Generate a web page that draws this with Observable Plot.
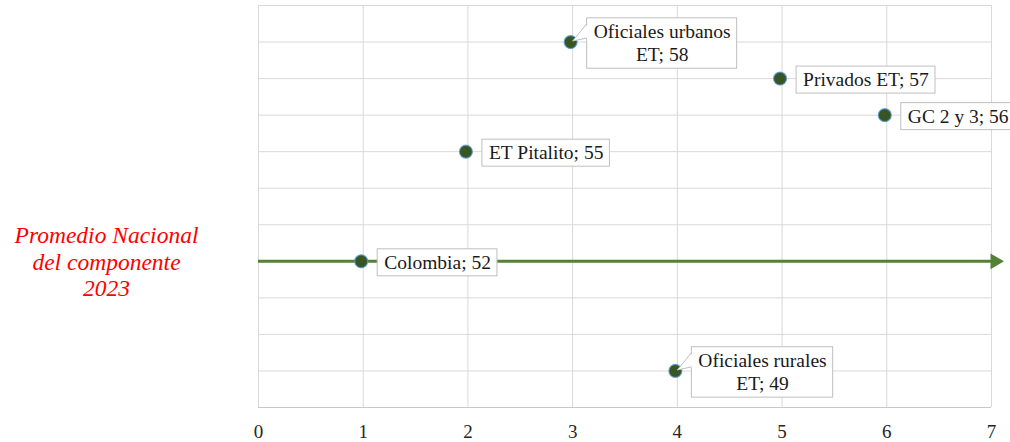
<!DOCTYPE html>
<html>
<head>
<meta charset="utf-8">
<script src="https://cdn.jsdelivr.net/npm/d3@7"></script>
<script src="https://cdn.jsdelivr.net/npm/@observablehq/plot@0.6"></script>
<style>
  body { margin: 0; background: #fff; }
  #chart { width: 1010px; height: 442px; overflow: hidden; }
</style>
</head>
<body>
<div id="chart"></div>
<script>
// ---- data ----
const categories = ["Colombia", "ET Pitalito", "Oficiales urbanos\nET", "Oficiales rurales\nET", "Privados ET", "GC 2 y 3"];
const positions = [1, 2, 3, 4, 5, 6];
const values = [52, 55, 58, 49, 57, 56];
const xTicks = [0, 1, 2, 3, 4, 5, 6, 7];
const yTicks = [48, 49, 50, 51, 52, 53, 54, 55, 56, 57, 58, 59];
const nationalAverage = 52;
const nationalLabel = "Promedio Nacional\ndel componente\n2023";

const data = categories.map((c, i) => ({
  name: c, x: positions[i], y: values[i], label: `${c}; ${values[i]}`
}));

const green = "#548235";
const serif = "Liberation Serif, Times New Roman, serif";

const plot = Plot.plot({
  width: 1010,
  height: 442,
  marginLeft: 258,
  marginRight: 19,
  marginTop: 5,
  marginBottom: 35,
  style: { fontFamily: serif, fontSize: "19px", background: "#fff", overflow: "visible" },
  x: { domain: [xTicks[0], xTicks[xTicks.length - 1]] },
  y: { domain: [yTicks[0], yTicks[yTicks.length - 1]], axis: null },
  marks: [
    Plot.gridY(yTicks, { stroke: "#d9d9d9", strokeOpacity: 1 }),
    Plot.gridX(xTicks, { stroke: "#d9d9d9", strokeOpacity: 1 }),
    Plot.ruleY([yTicks[0]], { stroke: "#c8c8c8", strokeWidth: 1.2 }),
    Plot.axisX(xTicks, { tickSize: 0, tickPadding: 17, fontSize: 19, fontFamily: serif, fill: "#262626", label: null, tickFormat: d => String(d) }),
    // national average arrow
    Plot.ruleY([nationalAverage], { x1: xTicks[0], x2: xTicks[xTicks.length - 1], stroke: green, strokeWidth: 3 }),
    Plot.dot([nationalAverage], { x: () => xTicks[xTicks.length - 1], y: d => d, symbol: "triangle", rotate: 90, r: 5.8, fill: green, stroke: "none", dx: 3.5 }),
    // red annotation in left margin
    Plot.text([nationalLabel], {
      frameAnchor: "left", y: () => nationalAverage, dx: -152, dy: 0,
      textAnchor: "middle", lineAnchor: "middle", lineHeight: 1.13,
      fill: "#ff0000", fontStyle: "italic", fontFamily: serif, fontSize: 23.5
    }),
    // points
    Plot.dot(data, { x: "x", y: "y", dx: -2, r: 6.5, fill: "#375623", stroke: "#5b9bd5", strokeWidth: 1.2, strokeOpacity: 0.8 }),
    // callout labels
    Plot.text(data, {
      x: "x", y: "y", text: "label", dx: -2,
      textAnchor: "middle", lineAnchor: "middle", lineHeight: 1.2,
      fontSize: 19.5, fontFamily: serif, fill: "#1a1a1a", ariaDescription: "callouts"
    })
  ]
});

document.getElementById("chart").append(plot);

// draw callout boxes behind the label texts rendered by Plot
const ns = "http://www.w3.org/2000/svg";
const group = plot.querySelector('g[aria-description="callouts"]');
if (group) {
  group.querySelectorAll("text").forEach(t => {
    const bb = t.getBBox();
    const px = +(t.getAttribute("x") || 0), py = +(t.getAttribute("y") || 0);
    const gap = 16, padL = 7, padR = 6, padY = 3;
    const shift = gap + padL - (bb.x - px);
    const wrap = document.createElementNS(ns, "g");
    const tr = t.getAttribute("transform");
    if (tr) wrap.setAttribute("transform", tr);
    t.parentNode.insertBefore(wrap, t);
    const bx = px + gap, by = bb.y - padY;
    const bw = bb.width + padL + padR, bh = bb.height + 2 * padY;
    const rect = document.createElementNS(ns, "rect");
    rect.setAttribute("x", bx); rect.setAttribute("y", by);
    rect.setAttribute("width", bw); rect.setAttribute("height", bh);
    rect.setAttribute("fill", "#fff"); rect.setAttribute("stroke", "#bfbfbf"); rect.setAttribute("stroke-width", 1);
    wrap.appendChild(rect);
    const ax = px + 2, ay = py - 1;
    const y1 = by + bh * 0.12, y2 = by + bh * 0.4;
    const fillTail = document.createElementNS(ns, "path");
    fillTail.setAttribute("d", `M${ax},${ay}L${bx + 1.5},${y1}L${bx + 1.5},${y2}Z`);
    fillTail.setAttribute("fill", "#fff");
    wrap.appendChild(fillTail);
    const strokeTail = document.createElementNS(ns, "path");
    strokeTail.setAttribute("d", `M${bx},${y1}L${ax},${ay}L${bx},${y2}`);
    strokeTail.setAttribute("fill", "none"); strokeTail.setAttribute("stroke", "#bfbfbf"); strokeTail.setAttribute("stroke-width", 1);
    wrap.appendChild(strokeTail);
    wrap.appendChild(t);
    t.setAttribute("transform", `translate(${shift},0)`);
  });
}
</script>
</body>
</html>
